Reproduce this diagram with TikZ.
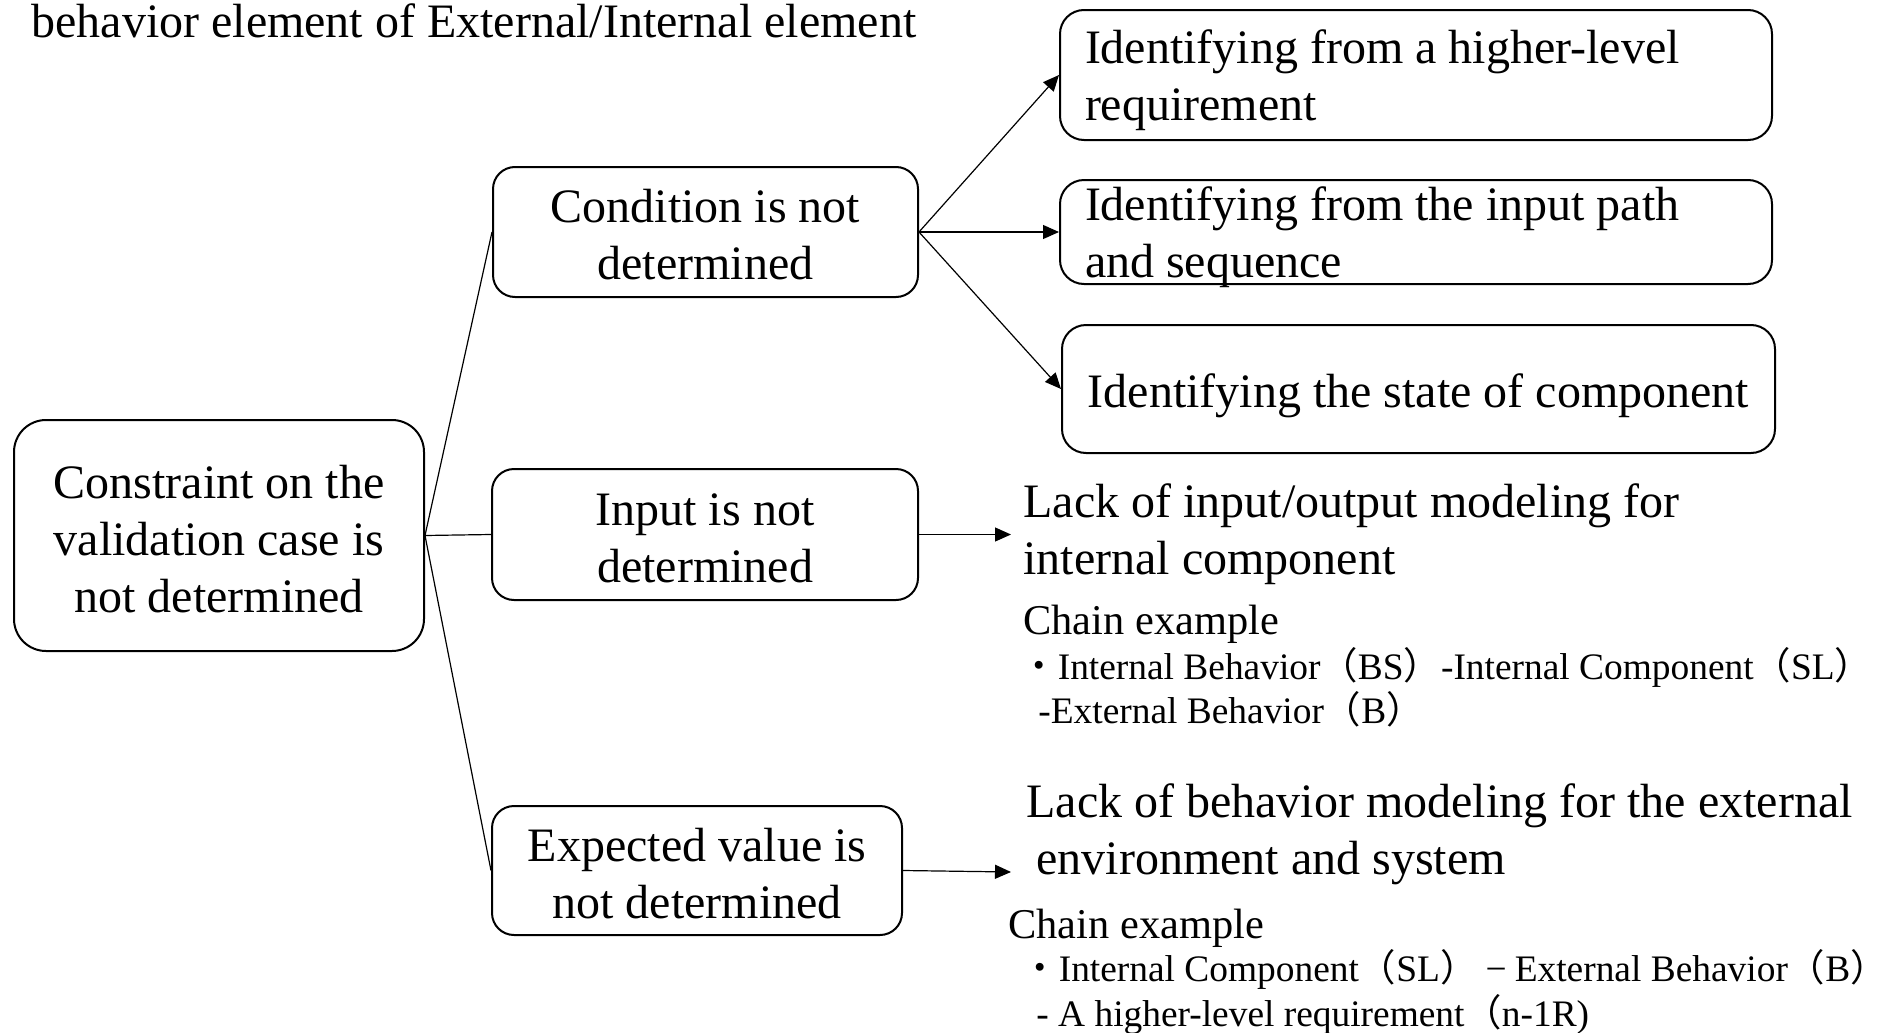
\documentclass[tikz,border=0pt]{standalone}
\usepackage{fontspec}
\setmainfont{Liberation Serif}
\newfontfamily\cjk{Noto Sans CJK JP}
\usetikzlibrary{arrows.meta}
\begin{document}
\begin{tikzpicture}[x=0.5pt,y=-0.5pt,
  box/.style={draw, line width=1pt, rounded corners=11pt, align=center,
    inner sep=0pt, text height=47.9pt, text depth=0pt,
    font=\fontsize{24}{28.5}\selectfont},
  idbox/.style={draw, line width=1pt, rounded corners=12pt, align=flush left,
    text width=331pt, inner xsep=12.5pt, inner ysep=0pt, minimum width=356pt,
    text height=19.4pt, text depth=30.7pt,
    font=\fontsize{24}{28.5}\selectfont},
  onebox/.style={draw, line width=1pt, rounded corners=12pt, inner sep=0pt,
    text height=18pt, text depth=0pt,
    font=\fontsize{24}{28.5}\selectfont},
  link/.style={line width=0.6pt},
  arr/.style={line width=0.6pt, -{Triangle[length=8pt,width=7pt]}},
  note/.style={anchor=base west, inner sep=0pt, align=flush left,
    font=\fontsize{24}{28.5}\selectfont},
  chain/.style={anchor=base west, inner sep=0pt, font=\fontsize{21.2}{26}\selectfont},
  item/.style={anchor=base west, inner sep=0pt, font=\fontsize{18.7}{22}\selectfont}]

\useasboundingbox (0,0) rectangle (1880,1033);

% heading
\node[note] (title) at (31,37) {behavior element of External/Internal element};

% root and first-level causes
\node[box, rounded corners=16pt, text height=76.6pt, minimum width=205pt,
  minimum height=115.5pt] (root) at (219,535.5)
  {Constraint on the\\validation case is\\not determined};
\node[box, minimum width=212.5pt, minimum height=65pt]
  (cond) at (705.5,232) {Condition is not\\determined};
\node[box, minimum width=213pt, minimum height=65.5pt]
  (inp) at (705,534.5) {Input is not\\determined};
\node[box, minimum width=205pt, minimum height=64.5pt]
  (expv) at (697,870.5) {Expected value is\\not determined};

% ways to identify the condition
\node[idbox, minimum height=65pt] (req) at (1416,75)
  {Identifying from a higher-level\\requirement};
\node[idbox, minimum height=52pt] (path) at (1416,232)
  {Identifying from the input path\\and sequence};
\node[onebox, minimum width=356.5pt, minimum height=64pt] (state) at (1418.5,389)
  {Identifying the state of component};

% connectors
\draw[link] (root.east) -- (cond.west);
\draw[link] (root.east) -- (inp.west);
\draw[link] (root.east) -- (expv.west);
\draw[arr] (cond.east) -- (req.west);
\draw[arr] (cond.east) -- (path.west);
\draw[arr] (cond.east) -- (state.west);
\coordinate (inpEnd) at (1011,534.5);
\coordinate (expEnd) at (1011,872);
\draw[arr] (inp.east) -- (inpEnd);
\draw[arr] (expv.east) -- (expEnd);

% missing input modelling (base anchor sits on the last line)
\node[note] (lackio) at (1023,574) {Lack of input/output modeling for\\internal component};
\node[chain] (chain1) at (1023,634) {Chain example};
\node[item] (item1a) at (1020,679)
  {{\cjk ・}Internal Behavior{\cjk （}BS{\cjk ）}-Internal Component{\cjk （}SL{\cjk ）}};
\node[item] (item1b) at (1038,723) {-External Behavior{\cjk （}B{\cjk ）}};

% missing behaviour modelling
\node[note] (lackenv) at (1026,874)
  {Lack of behavior modeling for the external\\\hspace*{5pt}environment and system};
\node[chain] (chain2) at (1008,938) {Chain example};
\node[item] (item2a) at (1021,981)
  {{\cjk ・}Internal Component{\cjk （}SL{\cjk ）}\makebox[1em]{−}External Behavior{\cjk （}B{\cjk ）}};
\node[item] (item2b) at (1036,1026) {- A higher-level requirement{\cjk （}n-1R)};
\end{tikzpicture}
\end{document}
